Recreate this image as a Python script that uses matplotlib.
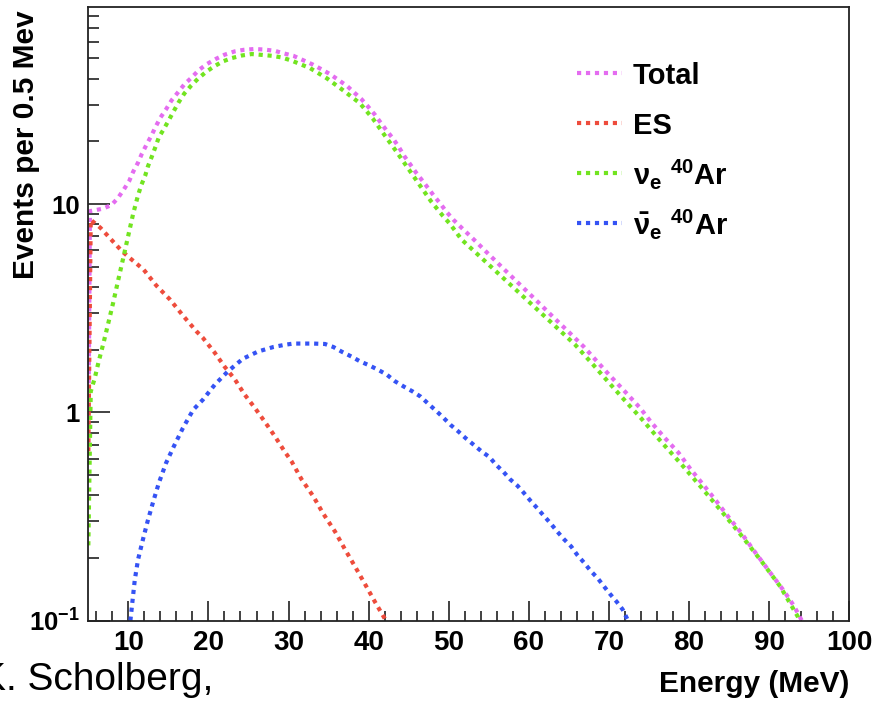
import matplotlib
matplotlib.use("Agg")
import matplotlib.pyplot as plt
from matplotlib.lines import Line2D
from matplotlib.ticker import MultipleLocator, LogLocator, FixedLocator, FixedFormatter, NullFormatter

# ---- data: supernova neutrino event spectra in liquid argon ----
total_E = [5.0, 5.2, 6.8, 7.9, 8.7, 9.4, 10.1, 10.6, 11.2, 11.7, 12.3, 12.9, 13.4, 14.0,
           14.7, 15.4, 16.2, 17.0, 17.9, 18.8, 19.8, 20.9, 22.0, 23.3, 24.4, 25.7, 26.9,
           28.3, 29.3, 30.6, 31.8, 33.0, 34.1, 35.2, 36.2, 37.3, 38.2, 39.1, 39.95, 40.8,
           41.5, 42.3, 43.1, 43.8, 44.45, 45.2, 45.9, 46.75, 47.45, 48.2, 49.0, 49.7, 50.6,
           51.6, 53.1, 55.0, 57.0, 59.0, 61.0, 63.0, 65.0, 66.9, 68.5, 70.0, 72.0, 73.9,
           75.3, 77.0, 78.7, 80.2, 81.8, 83.4, 84.9, 86.5, 88.0, 90.2, 91.8, 93.1, 94.1]
total_N = [0.69, 9.25, 9.5, 9.9, 10.7, 11.7, 12.9, 14.3, 15.8, 17.5, 19.4, 21.4, 23.5, 26.0,
           28.5, 31.5, 34.4, 37.6, 40.5, 44.0, 47.0, 49.7, 52.1, 54.1, 55.0, 55.5, 55.2,
           54.4, 53.0, 51.5, 49.1, 46.8, 44.4, 42.0, 39.5, 36.9, 34.3, 31.9, 29.3, 26.8,
           24.6, 22.4, 20.5, 18.7, 17.0, 15.5, 14.2, 12.9, 11.9, 10.9, 10.0, 9.2, 8.4,
           7.7, 6.78, 5.74, 4.83, 4.07, 3.43, 2.88, 2.43, 2.06, 1.76, 1.52, 1.26, 1.05,
           0.895, 0.753, 0.64, 0.534, 0.449, 0.376, 0.316, 0.265, 0.22, 0.169, 0.14, 0.118, 0.1]

es_E = [5.0, 5.3, 6.5, 8.1, 9.2, 10.2, 11.9, 13.5, 15.2, 16.9, 18.5, 19.3, 20.8, 22.0,
        23.3, 24.5, 25.8, 27.0, 28.3, 29.5, 30.4, 31.6, 33.1, 34.3, 35.8, 37.05, 38.3,
        39.5, 40.8, 42.0, 42.2]
es_N = [0.65, 8.4, 7.7, 6.6, 5.94, 5.5, 4.85, 4.06, 3.48, 2.89, 2.45, 2.28, 1.93, 1.66,
        1.44, 1.22, 1.05, 0.906, 0.767, 0.65, 0.58, 0.479, 0.395, 0.328, 0.268, 0.22, 0.182,
        0.151, 0.123, 0.1026, 0.099]

nue_E = [5.0, 5.3, 5.8, 6.3, 6.9, 7.5, 8.1, 8.75, 9.4, 10.0, 10.6, 11.2, 11.6, 12.1, 12.45,
         12.9, 13.4, 13.8, 14.45, 15.1, 15.7, 16.3, 17.0, 17.8, 18.7, 19.7, 20.7, 21.8,
         22.9, 24.2, 25.4, 26.7, 27.9, 29.1, 30.4, 32.7, 34.8, 36.8, 38.9, 40.5, 42.0,
         43.5, 44.95, 46.4, 47.8, 49.3, 50.2, 51.6, 55.0, 59.0, 63.0, 65.8, 68.0, 70.0,
         72.0, 74.1, 76.6, 79.1, 81.6, 84.1, 86.6, 89.1, 91.4, 93.6, 93.8]
nue_N = [0.23, 1.26, 1.46, 1.76, 2.16, 2.69, 3.36, 4.35, 5.6, 7.1, 9.0, 11.0, 12.3, 13.7, 15.2,
         16.8, 18.9, 20.9, 23.0, 25.5, 28.1, 30.9, 34.0, 36.9, 40.0, 43.1, 45.8, 48.4,
         50.2, 51.7, 52.5, 52.0, 51.5, 50.6, 48.8, 44.9, 40.1, 35.2, 30.5, 25.8, 21.4,
         17.8, 14.8, 12.3, 10.3, 8.75, 8.0, 6.76, 5.12, 3.69, 2.66, 2.11, 1.70, 1.39,
         1.14, 0.93, 0.718, 0.561, 0.434, 0.334, 0.255, 0.192, 0.146, 0.1045, 0.1]

nuebar_E = [10.25, 10.5, 10.8, 11.2, 11.8, 12.4, 13.1, 13.8, 14.7, 15.7, 16.8, 18.1, 19.3,
            20.8, 22.4, 24.3, 26.2, 28.1, 29.5, 30.6, 33.1, 34.55, 35.6, 36.6, 37.9, 38.9,
            40.1, 41.2, 42.25, 43.3, 44.4, 45.5, 46.5, 47.45, 48.4, 49.3, 50.2, 51.2, 52.1,
            53.1, 54.1, 55.1, 55.9, 56.8, 57.65, 58.6, 59.4, 60.2, 61.05, 61.9, 62.7, 63.55,
            64.4, 65.3, 66.05, 66.9, 67.7, 68.6, 69.4, 70.1, 71.0, 71.7, 72.4]
nuebar_N = [0.1, 0.123, 0.157, 0.196, 0.244, 0.30, 0.373, 0.458, 0.571, 0.69, 0.84, 1.03, 1.15,
            1.36, 1.57, 1.81, 1.96, 2.06, 2.11, 2.14, 2.14, 2.13, 2.06, 1.96, 1.85, 1.76,
            1.68, 1.60, 1.52, 1.41, 1.33, 1.26, 1.19, 1.10, 1.02, 0.946, 0.873, 0.81, 0.753,
            0.70, 0.65, 0.61, 0.561, 0.52, 0.478, 0.444, 0.41, 0.377, 0.347, 0.318, 0.294, 0.268,
            0.246, 0.227, 0.207, 0.19, 0.174, 0.16, 0.146, 0.135, 0.123, 0.1135, 0.1]

series_labels = ["Total", "ES", r"$\nu_{e}\ {}^{40}$Ar", r"$\bar{\nu}_{e}\ {}^{40}$Ar"]
series_colors = ["#e46cf0", "#ee4c3c", "#72e420", "#3553f4"]

x_ticks = [10, 20, 30, 40, 50, 60, 70, 80, 90, 100]
y_ticks = [0.1, 1, 10]
y_ticklabels = [r"$10^{-1}$", "1", "10"]

# ---- style ----
plt.rcParams["font.family"] = ["Liberation Sans", "DejaVu Sans"]
plt.rcParams["font.weight"] = "bold"
plt.rcParams["mathtext.fontset"] = "custom"
plt.rcParams["mathtext.rm"] = "Liberation Sans:bold"
plt.rcParams["mathtext.it"] = "Liberation Sans:bold"
plt.rcParams["mathtext.bf"] = "Liberation Sans:bold"
plt.rcParams["mathtext.sf"] = "Liberation Sans:bold"

fig = plt.figure(figsize=(8.79, 7.04), dpi=100)
ax = fig.add_axes([0.1005, 0.1183, 0.8655, 0.8713])

dot = (0, (1.0, 1.15))
lw = 3.0
data = [(total_E, total_N), (es_E, es_N), (nue_E, nue_N), (nuebar_E, nuebar_N)]
for (e, n), col in zip(data, series_colors):
    ax.plot(e, n, color=col, lw=lw, linestyle=dot)

ax.set_yscale("log")
ax.set_xlim(5, 100)
ax.set_ylim(0.1, 88)

ax.xaxis.set_major_locator(FixedLocator(x_ticks))
ax.xaxis.set_minor_locator(MultipleLocator(2))
ax.yaxis.set_major_locator(FixedLocator(y_ticks))
ax.yaxis.set_major_formatter(FixedFormatter(y_ticklabels))
ax.yaxis.set_minor_locator(LogLocator(base=10, subs=range(2, 10)))
ax.yaxis.set_minor_formatter(NullFormatter())

ax.tick_params(which="both", direction="in", top=False, right=False, color="#333333", width=1.3)
ax.tick_params(axis="x", which="major", length=14.5, pad=7, labelsize=20)
ax.tick_params(axis="x", which="minor", length=7.2)
ax.tick_params(axis="y", which="major", length=15.8, pad=6, labelsize=18.5)
ax.tick_params(axis="y", which="minor", length=8)
for lab in ax.get_xticklabels() + ax.get_yticklabels():
    lab.set_fontweight("bold")

for sp in ax.spines.values():
    sp.set_linewidth(1.3)
    sp.set_color("#222222")

ax.set_xlabel("Energy (MeV)", fontsize=21.5, fontweight="bold", loc="right", labelpad=10)
ax.set_ylabel("Events per 0.5 Mev", fontsize=21.5, fontweight="bold", loc="top")
ax.yaxis.set_label_coords(-0.064, 0.9956)

# legend: dotted key sample followed by the label, evenly spaced rows
key_x0, key_x1, text_x = 0.642, 0.701, 0.7155
key_y = [0.8929, 0.8114, 0.7299, 0.6484]
text_dy = -0.0178
for lab, col, ky in zip(series_labels, series_colors, key_y):
    ax.add_line(Line2D([key_x0, key_x1], [ky, ky], transform=ax.transAxes,
                       color=col, lw=lw, linestyle=dot))
    ax.text(text_x, ky + text_dy, lab, transform=ax.transAxes, fontsize=21,
            fontweight="bold", ha="left", va="baseline")

fig.text(-0.0228, 0.0199, "K. Scholberg,", fontsize=28, fontweight="normal",
         ha="left", va="baseline")

fig.savefig("out.png", dpi=100)
